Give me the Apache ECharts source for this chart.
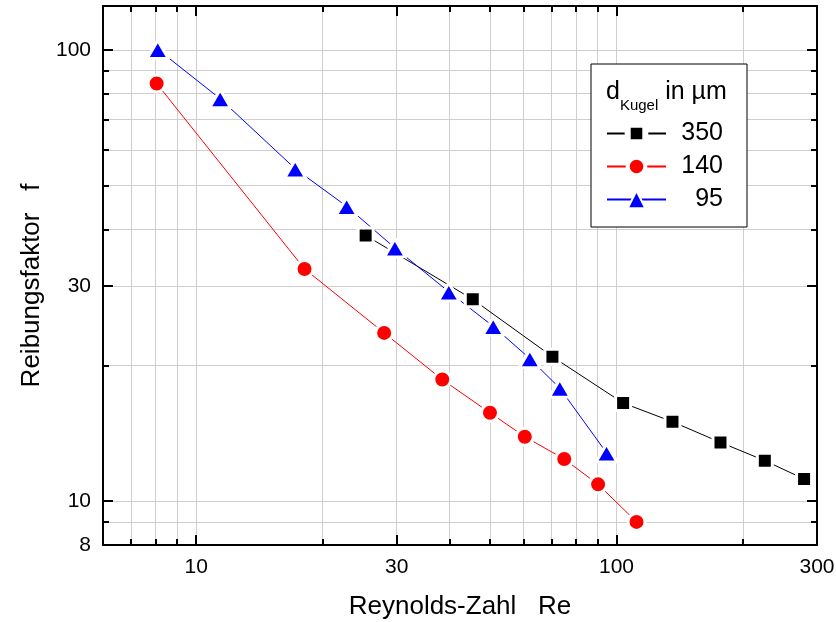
<!DOCTYPE html>
<html>
<head>
<meta charset="utf-8">
<script src="https://cdn.jsdelivr.net/npm/echarts@6/dist/echarts.min.js"></script>
<style>
  html, body { margin: 0; padding: 0; background: #fff; }
  #chart { width: 836px; height: 622px; }
</style>
</head>
<body>
<div id="chart"></div>
<script>
// Reibungsfaktor f über Reynolds-Zahl Re für drei Kugeldurchmesser (log-log)
const seriesNames = ['350', '140', '95'];

const re350 = [25.3, 45.5, 70.4, 103.7, 135.9, 176.8, 225.4, 279.5];
const f350  = [38.8, 28.0, 20.9, 16.5, 15.0, 13.5, 12.3, 11.2];

const re140 = [8.05, 18.1, 28.0, 38.5, 50.0, 60.5, 75.1, 90.4, 111.6];
const f140  = [84.2, 32.7, 23.6, 18.6, 15.7, 13.9, 12.4, 10.9, 9.0];

const re95 = [8.1, 11.4, 17.2, 22.8, 29.7, 39.9, 50.9, 62.2, 73.3, 94.7];
const f95  = [100.2, 77.9, 54.5, 45.0, 36.4, 29.1, 24.4, 20.7, 17.8, 12.8];

// axis ranges and tick values
const xRange = [6, 300];
const yRange = [8, 125];
const xMajorTicks = [10, 30, 100, 300];
const xMinorTicks = [7, 8, 9, 20, 40, 50, 60, 70, 80, 90, 200];
const yMajorTicks = [8, 10, 30, 100];
const yMinorTicks = [9, 20, 40, 50, 60, 70, 80, 90];

const FONT = '"Liberation Sans", Arial, Helvetica, sans-serif';
const GRID_COLOR = '#cfcfcf';

function zip(xs, ys) { return xs.map((x, i) => [x, ys[i]]); }

function makeAxis(range, position, ticks, len, opts) {
  return Object.assign({
    type: 'log',
    logBase: 10,
    min: range[0],
    max: range[1],
    position: position,
    axisLine: { show: true, onZero: false, lineStyle: { color: '#000', width: 2 } },
    axisTick: { show: true, inside: true, length: len, customValues: ticks,
                lineStyle: { color: '#000', width: 2 } },
    axisLabel: { show: false },
    splitLine: { show: false },
    minorTick: { show: false },
    minorSplitLine: { show: false }
  }, opts || {});
}

const chart = echarts.init(document.getElementById('chart'), null, { renderer: 'canvas' });

const option = {
  backgroundColor: '#ffffff',
  animation: false,
  grid: { left: 103, right: 19, top: 6, bottom: 77, containLabel: false, outerBoundsMode: 'none' },
  xAxis: [
    makeAxis(xRange, 'bottom', xMajorTicks, 10, {
      name: 'Reynolds-Zahl   Re',
      nameLocation: 'middle',
      nameGap: 49,
      nameTextStyle: { fontSize: 26, color: '#000', fontFamily: FONT },
      axisLabel: { show: true, customValues: xMajorTicks, margin: 12,
                   fontSize: 21, color: '#000', fontFamily: FONT },
      splitLine: { show: true, lineStyle: { color: GRID_COLOR, width: 1 } }
    }),
    makeAxis(xRange, 'bottom', xMinorTicks, 6, {
      splitLine: { show: true, lineStyle: { color: GRID_COLOR, width: 1 } }
    }),
    makeAxis(xRange, 'top', xMajorTicks, 10),
    makeAxis(xRange, 'top', xMinorTicks, 6)
  ],
  yAxis: [
    makeAxis(yRange, 'left', yMajorTicks, 10, {
      name: 'Reibungsfaktor   f',
      nameLocation: 'middle',
      nameRotate: 90,
      nameGap: 55,
      nameTextStyle: { fontSize: 26, color: '#000', fontFamily: FONT, padding: [0, 20, 0, 0] },
      axisLabel: { show: true, customValues: yMajorTicks, margin: 12,
                   fontSize: 21, color: '#000', fontFamily: FONT },
      splitLine: { show: true, lineStyle: { color: GRID_COLOR, width: 1 } }
    }),
    makeAxis(yRange, 'left', yMinorTicks, 6, {
      splitLine: { show: true, lineStyle: { color: GRID_COLOR, width: 1 } }
    }),
    makeAxis(yRange, 'right', yMajorTicks, 10),
    makeAxis(yRange, 'right', yMinorTicks, 6)
  ],
  legend: {
    data: [
      { name: seriesNames[0], itemStyle: { borderColor: '#fff', borderWidth: 6 } },
      { name: seriesNames[1], itemStyle: { borderColor: '#fff', borderWidth: 4 } },
      { name: seriesNames[2], itemStyle: { borderColor: '#fff', borderWidth: 2, borderJoin: 'round' } }
    ],
    orient: 'vertical',
    left: 591,
    top: 64,
    padding: [57, 24, 15, 15],
    itemWidth: 59,
    itemHeight: 22,
    itemGap: 8,
    backgroundColor: '#fff',
    borderColor: '#000',
    borderWidth: 1,
    borderRadius: 0,
    selectedMode: false,
    formatter: name => '{v|' + name + '}',
    textStyle: {
      color: '#000', fontFamily: FONT, fontSize: 25, lineHeight: 24,
      rich: { v: { width: 52, align: 'right', fontSize: 25, lineHeight: 24,
                   color: '#000', fontFamily: FONT } }
    }
  },
  graphic: [{
    type: 'text',
    left: 606,
    top: 77,
    z: 100,
    style: {
      text: '{a|d}{b|Kugel}{a| in µm}',
      fill: '#000',
      rich: {
        a: { fontSize: 25, lineHeight: 30, padding: [0, 0, 6, 0], fontFamily: FONT, fill: '#000' },
        b: { fontSize: 15, lineHeight: 15, padding: [21, 0, 0, 0], fontFamily: FONT, fill: '#000' }
      }
    }
  }],
  series: [
    {
      name: seriesNames[0],
      type: 'line',
      data: zip(re350, f350),
      symbol: 'rect',
      symbolSize: 15,
      lineStyle: { color: '#000', width: 1 },
      itemStyle: { color: '#000', borderColor: '#fff', borderWidth: 3 },
      z: 3
    },
    {
      name: seriesNames[1],
      type: 'line',
      data: zip(re140, f140),
      symbol: 'circle',
      symbolSize: 17,
      lineStyle: { color: '#ff0000', width: 1 },
      itemStyle: { color: '#ff0000', borderColor: '#fff', borderWidth: 3 },
      z: 3
    },
    {
      name: seriesNames[2],
      type: 'line',
      data: zip(re95, f95),
      symbol: 'triangle',
      symbolSize: [21, 18],
      lineStyle: { color: '#0000ff', width: 1 },
      itemStyle: { color: '#0000ff', borderColor: '#fff', borderWidth: 3, borderJoin: 'round' },
      z: 3
    }
  ]
};

chart.setOption(option);
</script>
</body>
</html>
